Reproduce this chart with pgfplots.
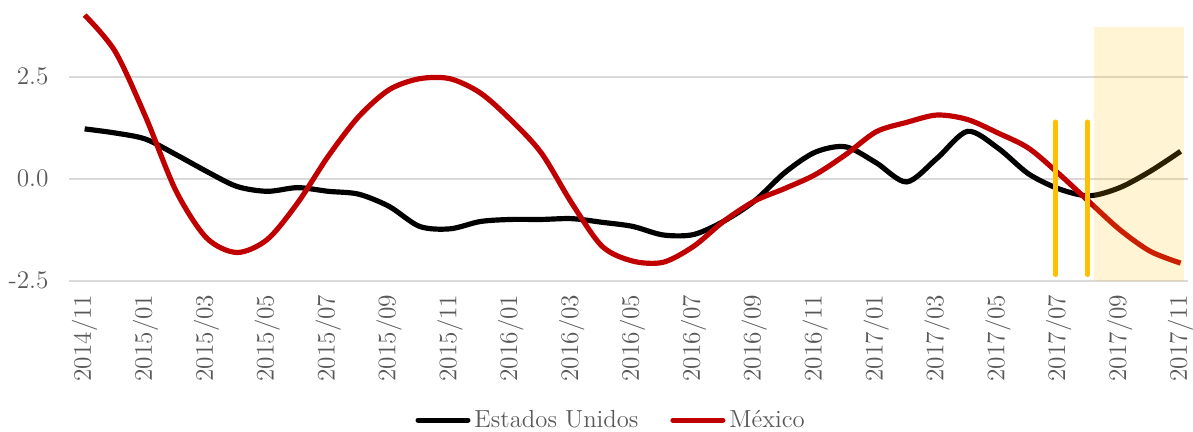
\documentclass[border=0pt]{standalone}
\usepackage{pgfplots}
\usepackage{pgfplotstable}
\pgfplotsset{compat=1.18}

\definecolor{eeuu}{HTML}{000000}
\definecolor{mex}{HTML}{C00000}
\definecolor{gridc}{HTML}{D9D9D9}
\definecolor{txt}{HTML}{595959}
\definecolor{amber}{HTML}{FFC000}

% month index (0 = 2014/11), Estados Unidos, Mexico
\pgfplotstableread{
m   us     mx
0   1.22   4.01
1   1.12   3.12
2   0.97   1.52
3   0.59  -0.30
4   0.18  -1.45
5  -0.19  -1.81
6  -0.31  -1.49
7  -0.22  -0.59
8  -0.31   0.55
9  -0.38   1.52
10 -0.68   2.18
11 -1.17   2.45
12 -1.23   2.45
13 -1.05   2.10
14 -1.00   1.44
15 -1.00   0.63
16 -0.98  -0.60
17 -1.07  -1.66
18 -1.17  -2.02
19 -1.38  -2.05
20 -1.37  -1.66
21 -1.04  -1.04
22 -0.55  -0.55
23  0.15  -0.24
24  0.65   0.10
25  0.78   0.59
26  0.39   1.15
27 -0.08   1.38
28  0.50   1.56
29  1.16   1.45
30  0.75   1.12
31  0.12   0.75
32 -0.25   0.12
33 -0.42  -0.57
34 -0.22  -1.25
35  0.18  -1.78
36  0.67  -2.07
}\datatable

\begin{document}
\begin{tikzpicture}
\begin{axis}[
  name=ax,
  scale only axis,
  width=561.5pt, height=140.85pt,
  xmin=-0.5, xmax=36.25,
  ymin=-2.5, ymax=4.38,
  axis line style={draw=none},
  major tick length=0pt,
  ytick={-2.5,0,2.5},
  yticklabels={-2.5,0.0,2.5},
  ymajorgrids,
  grid style={gridc, line width=1pt},
  xtick={0,2,...,36},
  xticklabels={2014/11,2015/01,2015/03,2015/05,2015/07,2015/09,2015/11,2016/01,2016/03,2016/05,2016/07,2016/09,2016/11,2017/01,2017/03,2017/05,2017/07,2017/09,2017/11},
  xticklabel shift=3.5pt,
  xticklabel style={rotate=90, anchor=east, font=\fontsize{12.7}{15}\selectfont, text=txt},
  yticklabel style={font=\fontsize{12.7}{15}\selectfont, text=txt, xshift=-7pt},
  legend columns=2,
  legend cell align=left,
  legend style={at={(0.485,-0.497)}, anchor=center, draw=none, fill=none,
    font=\fontsize{12.4}{15}\selectfont, text=txt,
    /tikz/every even column/.append style={column sep=14pt}},
  legend image code/.code={\draw[#1, line cap=round] (0pt,0pt) -- (25pt,0pt);},
  clip=false,
]
\addplot[eeuu, line width=2.6pt, smooth] table[x=m, y=us] {\datatable};
\addlegendentry{Estados Unidos}
\addplot[mex, line width=2.6pt, smooth] table[x=m, y=mx] {\datatable};
\addlegendentry{México}

% highlighted window
\fill[amber, opacity=0.17] (axis cs:33.15,-2.5) rectangle (axis cs:36.1,3.73);

% bracket marks
\addplot[amber, line width=2.5pt, line cap=round, forget plot] coordinates {(31.9,1.39) (31.9,-2.35)};
\addplot[amber, line width=2.5pt, line cap=round, forget plot] coordinates {(32.95,1.39) (32.95,-2.35)};
\end{axis}
\pgfresetboundingbox
\path ([shift={(-34.85pt,-75.65pt)}]ax.south west) rectangle ([shift={(2.4pt,0pt)}]ax.north east);
\end{tikzpicture}
\end{document}
